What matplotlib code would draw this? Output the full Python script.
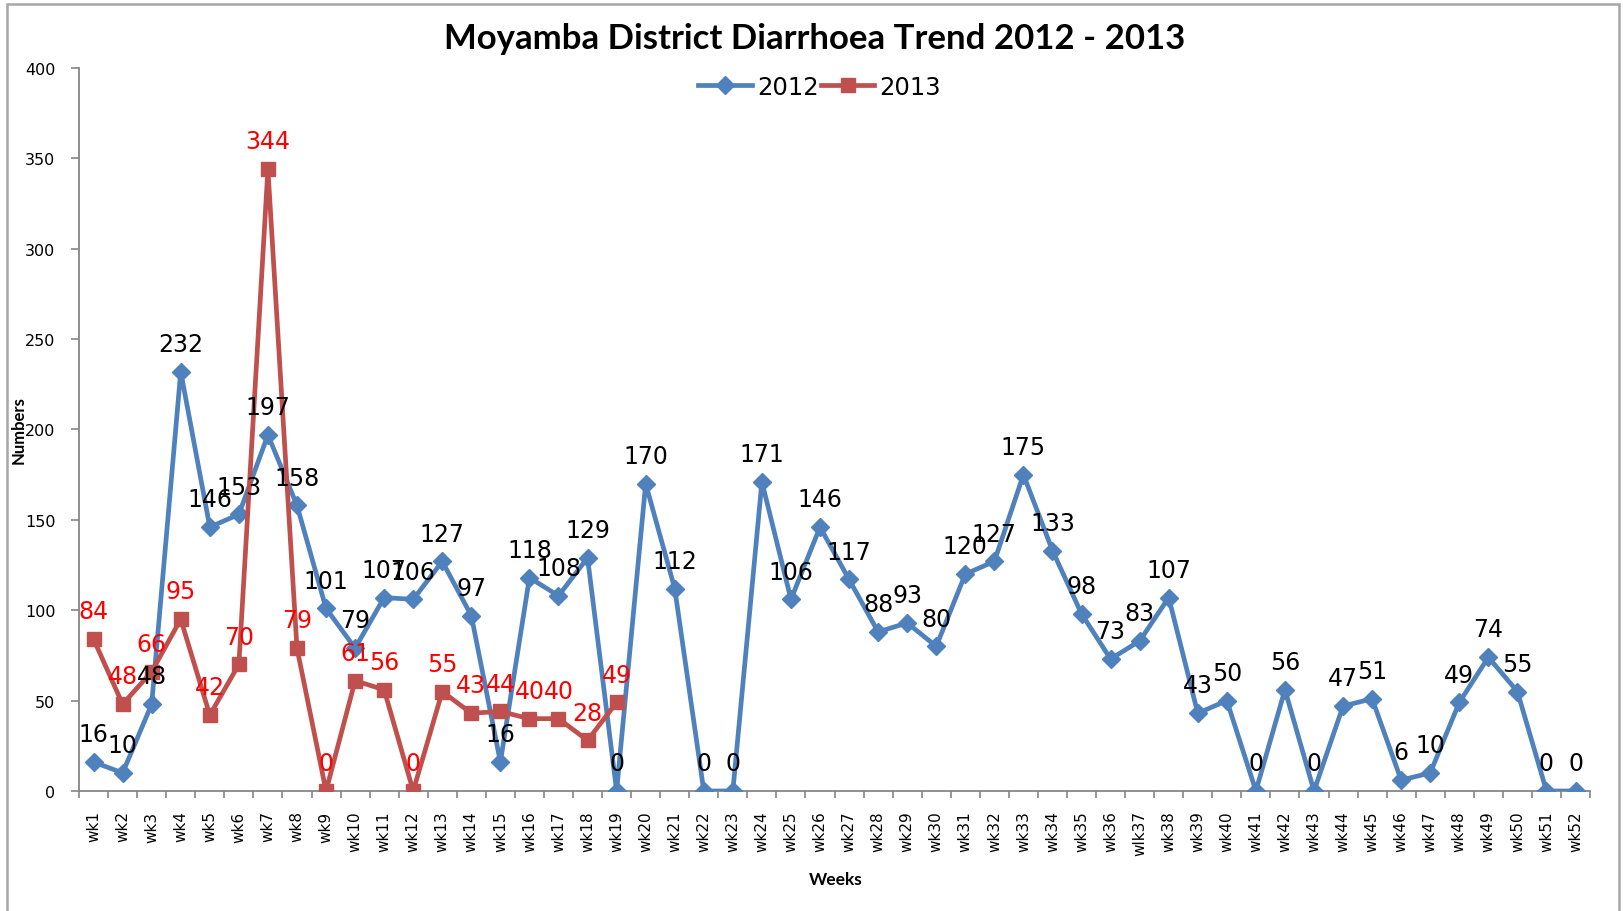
import matplotlib
matplotlib.use("Agg")
import matplotlib.pyplot as plt
from matplotlib.patches import Rectangle
import numpy as np

# weekly counts
weeks = ["wk%d" % i for i in range(1, 53)]
weeks[36] = "wlk37"  # label as written in the original
cases_2012 = [16, 10, 48, 232, 146, 153, 197, 158, 101, 79, 107, 106, 127, 97, 16, 118,
              108, 129, 0, 170, 112, 0, 0, 171, 106, 146, 117, 88, 93, 80, 120, 127,
              175, 133, 98, 73, 83, 107, 43, 50, 0, 56, 0, 47, 51, 6, 10, 49, 74, 55, 0, 0]
cases_2013 = [84, 48, 66, 95, 42, 70, 344, 79, 0, 61, 56, 0, 55, 43, 44, 40, 40, 28, 49]

blue = "#4F81BD"
red = "#C0504D"

fig = plt.figure(figsize=(16.23, 9.12), dpi=100)
ax = fig.add_axes([0.0487, 0.1316, 0.931, 0.7928])

x12 = np.arange(len(cases_2012))
x13 = np.arange(len(cases_2013))
ax.plot(x12, cases_2012, color=blue, lw=3.4, marker="D", ms=9, label="2012", zorder=3)
ax.plot(x13, cases_2013, color=red, lw=3.4, marker="s", ms=10.5, label="2013", zorder=4)

# data labels above each point
for xi, v in zip(x12, cases_2012):
    ax.annotate(str(v), (xi, v), xytext=(0, 20), textcoords="offset points",
                ha="center", va="center", fontsize=17, color="black", zorder=5)
for xi, v in zip(x13, cases_2013):
    ax.annotate(str(v), (xi, v), xytext=(0, 20), textcoords="offset points",
                ha="center", va="center", fontsize=17, color="#FF0000", zorder=6)

ax.set_xlim(-0.5, len(weeks) - 0.5)
ax.set_ylim(0, 400)
ax.set_yticks(np.arange(0, 401, 50))
ax.set_xticks(x12)
ax.set_xticklabels(weeks, rotation=90, fontsize=11)
ax.set_xticks(np.arange(-0.5, len(weeks), 1), minor=True)
ax.tick_params(axis="x", which="major", length=0, pad=14)
ax.tick_params(axis="x", which="minor", length=5, color="#868686", width=1.2)
ax.tick_params(axis="y", length=6, color="#868686", width=1.2, labelsize=11.5, pad=11)

for s in ["top", "right"]:
    ax.spines[s].set_visible(False)
for s in ["left", "bottom"]:
    ax.spines[s].set_color("#868686")
    ax.spines[s].set_linewidth(1.3)

ax.set_ylabel("Numbers", fontsize=12, fontweight="bold", family="Lato")
ax.yaxis.set_label_coords(-0.035, 0.5)
ax.set_xlabel("Weeks", fontsize=12.5, fontweight="bold", family="Lato")
ax.xaxis.set_label_coords(0.501, -0.111)

fig.text(0.502, 0.957, "Moyamba District Diarrhoea Trend 2012 - 2013", ha="center", va="center",
         fontsize=25, fontweight="bold", family="Lato")

fig.legend(loc="center", bbox_to_anchor=(0.505, 0.904), ncol=2, frameon=False, fontsize=17.5,
           handlelength=2.2, handletextpad=0.2, columnspacing=0.1, borderpad=0)

# outer chart frame
fig.patches.append(Rectangle((0.0045, -0.02), 0.993, 1.014, transform=fig.transFigure,
                             fill=False, edgecolor="#A6A6A6", lw=1.8))

fig.savefig("out.png", dpi=100)
